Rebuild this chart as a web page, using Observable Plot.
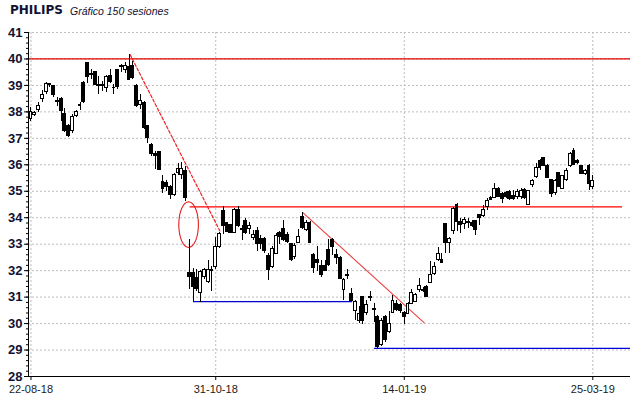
<!DOCTYPE html>
<html>
<head>
<meta charset="utf-8">
<script src="https://cdn.jsdelivr.net/npm/d3@7"></script>
<script src="https://cdn.jsdelivr.net/npm/@observablehq/plot@0.6"></script>
<style>
  body { margin: 0; background: #fff; }
  #wrap { position: relative; width: 640px; height: 398px; }
  #title { position: absolute; left: 10px; top: 3px; font: bold 12px "DejaVu Sans", sans-serif; color: #111133; }
  #sub { position: absolute; left: 70px; top: 5px; font: italic 10.5px "Liberation Sans", sans-serif; color: #111133; }
</style>
</head>
<body>
<div id="wrap">
  <div id="chart"></div>
  <div id="title">PHILIPS</div>
  <div id="sub">Gráfico 150 sesiones</div>
</div>
<script>
// ---- data: 150 daily sessions (index 0 = 22-08-18) ----
const opens = [37.73,37.90,38.09,38.49,38.74,39.05,38.97,38.43,38.49,37.92,
  37.48,37.27,37.83,38.22,39.09,39.85,39.43,39.50,38.97,39.00,
  38.90,39.37,38.92,39.57,39.70,39.60,39.70,39.72,38.99,38.25,
  38.34,37.46,36.74,36.42,36.50,35.36,35.30,35.17,34.85,35.69,
  35.60,35.76,31.91,31.91,31.73,31.16,31.76,31.56,32.02,32.14,
  32.91,34.25,33.79,33.72,33.44,34.29,33.58,33.89,33.56,33.25,
  33.51,33.19,33.19,32.54,32.14,32.64,33.41,33.56,33.35,33.01,
  32.51,33.04,34.04,33.54,33.81,32.60,32.40,32.16,32.16,32.77,
  33.17,32.58,32.49,31.28,31.85,31.13,30.48,30.10,31.00,30.40,
  30.99,30.50,30.25,29.18,30.25,29.68,30.40,30.75,30.69,30.40,
  30.38,30.75,30.82,31.28,31.28,31.38,31.53,31.89,32.39,32.42,
  33.75,33.04,33.50,34.50,33.84,33.75,33.80,33.80,33.86,34.09,
  34.05,34.40,34.75,34.75,35.09,34.88,34.93,34.97,34.84,34.78,
  34.78,35.03,34.50,35.22,35.53,36.16,36.26,35.94,35.41,34.93,
  35.70,35.09,35.41,35.97,36.52,36.14,35.94,35.66,35.97,35.16];
const highs = [38.15,38.02,38.34,38.82,39.12,39.09,38.99,38.53,38.53,38.11,
  37.52,37.90,38.06,38.34,39.16,39.87,39.60,39.53,39.35,39.15,
  39.37,39.60,39.03,39.62,39.79,39.85,40.16,39.91,39.03,38.65,
  38.40,37.48,36.79,36.51,36.52,35.61,35.40,35.20,35.67,36.04,
  36.10,35.95,33.16,32.10,32.04,32.01,32.10,32.40,32.15,33.26,
  33.45,34.41,33.81,33.76,34.35,34.41,33.69,33.98,33.81,33.50,
  33.64,33.31,33.26,32.66,32.91,33.41,33.48,33.91,33.44,33.04,
  33.04,33.56,34.19,33.91,33.85,32.66,32.90,32.39,32.39,33.17,
  33.21,32.79,32.52,31.70,32.03,31.32,30.86,30.63,31.00,30.88,
  31.20,30.75,30.32,30.19,30.32,30.44,31.07,30.86,30.75,30.44,
  30.78,31.28,31.13,31.70,31.38,31.44,32.36,32.29,32.87,32.64,
  33.75,33.26,34.40,34.55,33.97,34.00,33.97,33.90,33.90,34.12,
  34.46,34.72,34.80,35.30,35.15,34.97,35.00,35.03,35.03,35.06,
  35.09,35.09,35.03,35.44,36.06,36.20,36.28,36.01,35.44,35.44,
  35.72,35.60,35.85,36.47,36.60,36.19,35.97,35.81,36.01,35.60];
const lows = [37.64,37.83,37.96,38.34,38.65,38.94,38.53,38.21,37.64,37.23,
  37.04,37.20,37.77,38.06,38.31,39.09,39.22,38.99,38.65,38.78,
  38.74,39.09,38.65,38.84,39.47,39.45,39.19,39.24,38.15,38.09,
  37.33,36.80,36.32,35.82,35.78,34.92,35.00,34.68,34.80,35.60,
  35.45,34.60,31.29,30.85,31.20,30.80,31.66,31.50,31.22,32.05,
  32.85,33.35,33.44,33.42,33.41,33.64,33.14,33.35,33.35,33.14,
  32.73,32.79,32.66,31.64,32.10,32.60,32.98,33.10,33.04,32.35,
  32.41,33.01,33.54,33.48,33.01,31.89,31.95,31.76,31.95,32.14,
  32.58,32.24,31.67,30.88,31.66,30.82,30.13,30.00,29.97,30.31,
  30.83,30.03,29.06,29.12,29.30,29.62,30.37,30.44,30.38,29.97,
  30.35,30.72,30.78,31.19,31.16,30.97,31.50,31.82,32.33,32.26,
  32.64,32.64,33.36,33.47,33.42,33.55,33.60,33.62,33.33,33.72,
  34.02,34.27,34.65,34.72,34.75,34.55,34.72,34.65,34.65,34.68,
  34.68,34.68,34.47,35.16,35.47,35.79,35.94,35.47,34.78,34.84,
  35.15,35.05,35.38,35.91,35.97,36.01,35.63,35.60,35.03,35.06];
const closes = [37.98,37.95,38.24,38.65,39.07,39.03,38.65,38.38,38.02,37.27,
  37.08,37.80,37.98,38.25,38.36,39.32,39.38,39.03,39.00,38.98,
  39.32,39.12,38.90,38.94,39.72,39.75,39.22,39.28,38.21,38.43,
  37.39,37.02,36.39,36.35,35.80,35.10,35.15,34.85,35.62,35.85,
  35.85,34.73,31.76,31.39,31.29,31.94,32.01,32.01,31.98,32.91,
  33.39,33.69,33.47,33.44,34.29,33.69,33.55,33.41,33.69,33.35,
  33.01,33.01,32.73,32.04,32.81,33.31,33.26,33.16,33.10,32.39,
  32.94,33.26,33.60,33.81,33.04,32.10,32.30,31.82,31.99,32.20,
  32.89,32.49,31.70,31.64,31.80,30.86,30.82,30.38,30.10,30.69,
  30.97,30.55,29.12,30.10,29.37,30.00,30.86,30.50,30.48,30.23,
  30.75,31.16,31.07,31.41,31.23,31.00,31.82,32.14,32.62,32.29,
  33.04,33.20,34.34,33.84,33.71,33.90,33.85,33.67,33.52,34.00,
  34.30,34.62,34.68,35.09,34.80,34.72,34.78,34.72,34.72,34.97,
  35.00,34.75,35.00,35.37,35.89,35.89,35.97,35.51,34.88,35.37,
  35.18,35.56,35.76,36.41,36.01,36.06,35.66,35.76,35.28,35.37];

const tickIndex = [0, 49, 99, 149];
const tickLabels = ["22-08-18", "31-10-18", "14-01-19", "25-03-19"];
const yTicks = [28,29,30,31,32,33,34,35,36,37,38,39,40,41];

// annotation values (session index, price)
const topLevel = 40;
const resistance = {from: 42.2, to: 156.9, price: 34.41};
const boxSupport = {from: 43.1, to: 85.3, price: 30.83};
const lowSupport = {from: 91.1, price: 29.06};
const dashedTrend = [{i: 26.3, p: 40.16}, {i: 50.1, p: 33.5}];
const solidTrend = [{i: 72.1, p: 34.19}, {i: 104.3, p: 30.03}];
const gapEllipse = {i: 41.8, p: 33.74, ri: 2.6, rp: 0.86};

const xDomain = [-0.66, 159];
const candles = opens.map((o, i) => ({i, open: o, high: highs[i], low: lows[i], close: closes[i]}));
const up = candles.filter(d => d.close >= d.open);
const down = candles.filter(d => d.close < d.open);
const minorTicks = d3.range(28, 41.001, 0.2).map(v => Math.round(v * 10) / 10);
const ellipsePts = d3.range(0, 361, 5).map(a => ({
  i: gapEllipse.i + gapEllipse.ri * Math.cos(a * Math.PI / 180),
  p: gapEllipse.p + gapEllipse.rp * Math.sin(a * Math.PI / 180)
}));
const halfW = 0.38;

const chart = Plot.plot({
  width: 640,
  height: 398,
  marginLeft: 28,
  marginRight: 10,
  marginTop: 32,
  marginBottom: 22,
  style: {fontFamily: "Liberation Sans, Arial, sans-serif", background: "white", overflow: "visible"},
  x: {type: "linear", domain: xDomain, label: null},
  y: {type: "linear", domain: [28, 41], label: null},
  marks: [
    Plot.gridY(yTicks.slice(1), {stroke: "#bdbdbd", strokeOpacity: 1, strokeDasharray: "2,2"}),
    Plot.gridX(tickIndex, {stroke: "#bdbdbd", strokeOpacity: 1, strokeDasharray: "2,2"}),
    Plot.ruleY([topLevel], {stroke: "#e00000", strokeWidth: 1.3}),
    Plot.ruleY([resistance.price], {x1: resistance.from, x2: resistance.to, stroke: "#ff0000", strokeWidth: 1.3}),
    Plot.ruleY([boxSupport.price], {x1: boxSupport.from, x2: boxSupport.to, stroke: "#0000cc", strokeWidth: 1.3}),
    Plot.ruleY([lowSupport.price], {x1: lowSupport.from, x2: xDomain[1], stroke: "#0000dd", strokeWidth: 1.3}),
    Plot.line(dashedTrend, {x: "i", y: "p", stroke: "#f02020", strokeDasharray: "3,2", strokeWidth: 1.2}),
    Plot.line(solidTrend, {x: "i", y: "p", stroke: "#f04040", strokeWidth: 1.1}),
    Plot.line(ellipsePts, {x: "i", y: "p", stroke: "#e02020", strokeWidth: 1.1, curve: "linear"}),
    Plot.ruleX(candles, {x: "i", y1: "low", y2: "high", stroke: "black", strokeWidth: 1, shapeRendering: "crispEdges"}),
    Plot.rect(down, {x1: d => d.i - halfW, x2: d => d.i + halfW, y1: "open", y2: "close", fill: "black", stroke: "black", strokeWidth: 1, shapeRendering: "crispEdges"}),
    Plot.rect(up, {x1: d => d.i - halfW, x2: d => d.i + halfW, y1: "open", y2: "close", fill: "white", stroke: "black", strokeWidth: 1, shapeRendering: "crispEdges"}),
    Plot.ruleX([xDomain[0]], {stroke: "black", strokeWidth: 1}),
    Plot.ruleY([28], {stroke: "black", strokeWidth: 1.2}),
    Plot.axisY(minorTicks, {tickSize: 2, text: null, stroke: "black", label: null}),
    Plot.axisY(yTicks, {tickSize: 4, tickPadding: 2, fontSize: 13, fontWeight: "bold", fill: "#111133", stroke: "black", label: null, tickFormat: d => String(d)}),
    Plot.axisX(tickIndex, {tickSize: 4, tickPadding: 5, fontSize: 11, fill: "#1a1a1a", stroke: "black", label: null, tickFormat: d => tickLabels[tickIndex.indexOf(d)]})
  ]
});
document.getElementById("chart").appendChild(chart);
</script>
</body>
</html>
